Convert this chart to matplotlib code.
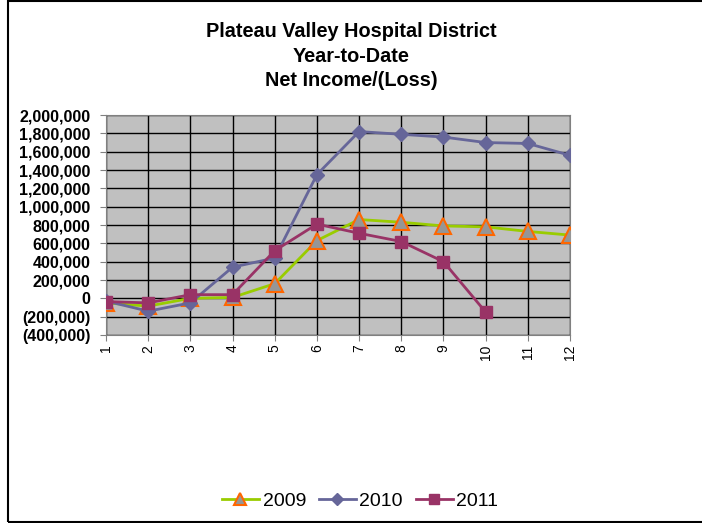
import matplotlib
matplotlib.use("Agg")
import matplotlib.pyplot as plt
from matplotlib.patches import Rectangle
from matplotlib.ticker import FuncFormatter

plt.rcParams['font.family'] = ['Liberation Sans', 'DejaVu Sans']

months = list(range(1, 13))
ytd_2009 = [-50000, -85000, 0, 10000, 160000, 630000, 860000, 830000, 790000, 780000, 730000, 690000]
ytd_2010 = [-30000, -140000, -50000, 340000, 440000, 1350000, 1820000, 1790000, 1760000, 1700000, 1690000, 1560000]
ytd_2011 = [-35000, -50000, 40000, 40000, 520000, 810000, 710000, 620000, 400000, -150000]

fig = plt.figure(figsize=(7.02, 5.23), dpi=100)
ax = fig.add_axes([0.151, 0.3595, 0.661, 0.4205])
ax.set_facecolor('#C0C0C0')

ax.plot(months, ytd_2009, color='#99CC00', lw=2, marker='^', ms=11,
        mfc='#969696', mec='#FF6600', mew=1.5, label='2009', zorder=3)
ax.plot(months, ytd_2010, color='#666699', lw=2, marker='D', ms=7,
        mfc='#666699', mec='#666699', label='2010', zorder=3)
ax.plot(months[:len(ytd_2011)], ytd_2011, color='#993366', lw=2, marker='s', ms=9,
        mfc='#993366', mec='#993366', label='2011', zorder=4)

ax.set_xlim(1, 12)
ax.set_ylim(-400000, 2000000)
ax.set_xticks(months)
ax.set_xticklabels([str(m) for m in months], rotation=90, fontsize=10)
ax.set_yticks(range(-400000, 2000001, 200000))

def fmt(v, pos):
    if v < 0:
        return '({:,.0f})'.format(-v)
    return '{:,.0f}'.format(v)

ax.yaxis.set_major_formatter(FuncFormatter(fmt))
for lbl in ax.get_yticklabels():
    lbl.set_fontweight('bold')
    lbl.set_fontsize(11.6)
ax.grid(True, color='black', lw=1)
ax.set_axisbelow(True)
for s in ax.spines.values():
    s.set_color('#808080')
ax.tick_params(axis='both', length=4, color='#808080', pad=3)
ax.tick_params(axis='y', pad=7)

fig.text(0.5, 0.958, 'Plateau Valley Hospital District\nYear-to-Date\nNet Income/(Loss)',
         ha='center', va='top', fontsize=14.3, fontweight='bold', linespacing=1.38)

fig.legend(loc='center', bbox_to_anchor=(0.513, 0.042), ncol=3, frameon=False,
           fontsize=14, handlelength=1.9, columnspacing=0.65, handletextpad=0.2,
           markerscale=0.85)

fig.patches.append(Rectangle((8 / 702, 1 / 523), 1.0, 1 - 2 / 523, transform=fig.transFigure,
                             fill=False, edgecolor='black', lw=1.5))

fig.savefig('out.png', dpi=100)
